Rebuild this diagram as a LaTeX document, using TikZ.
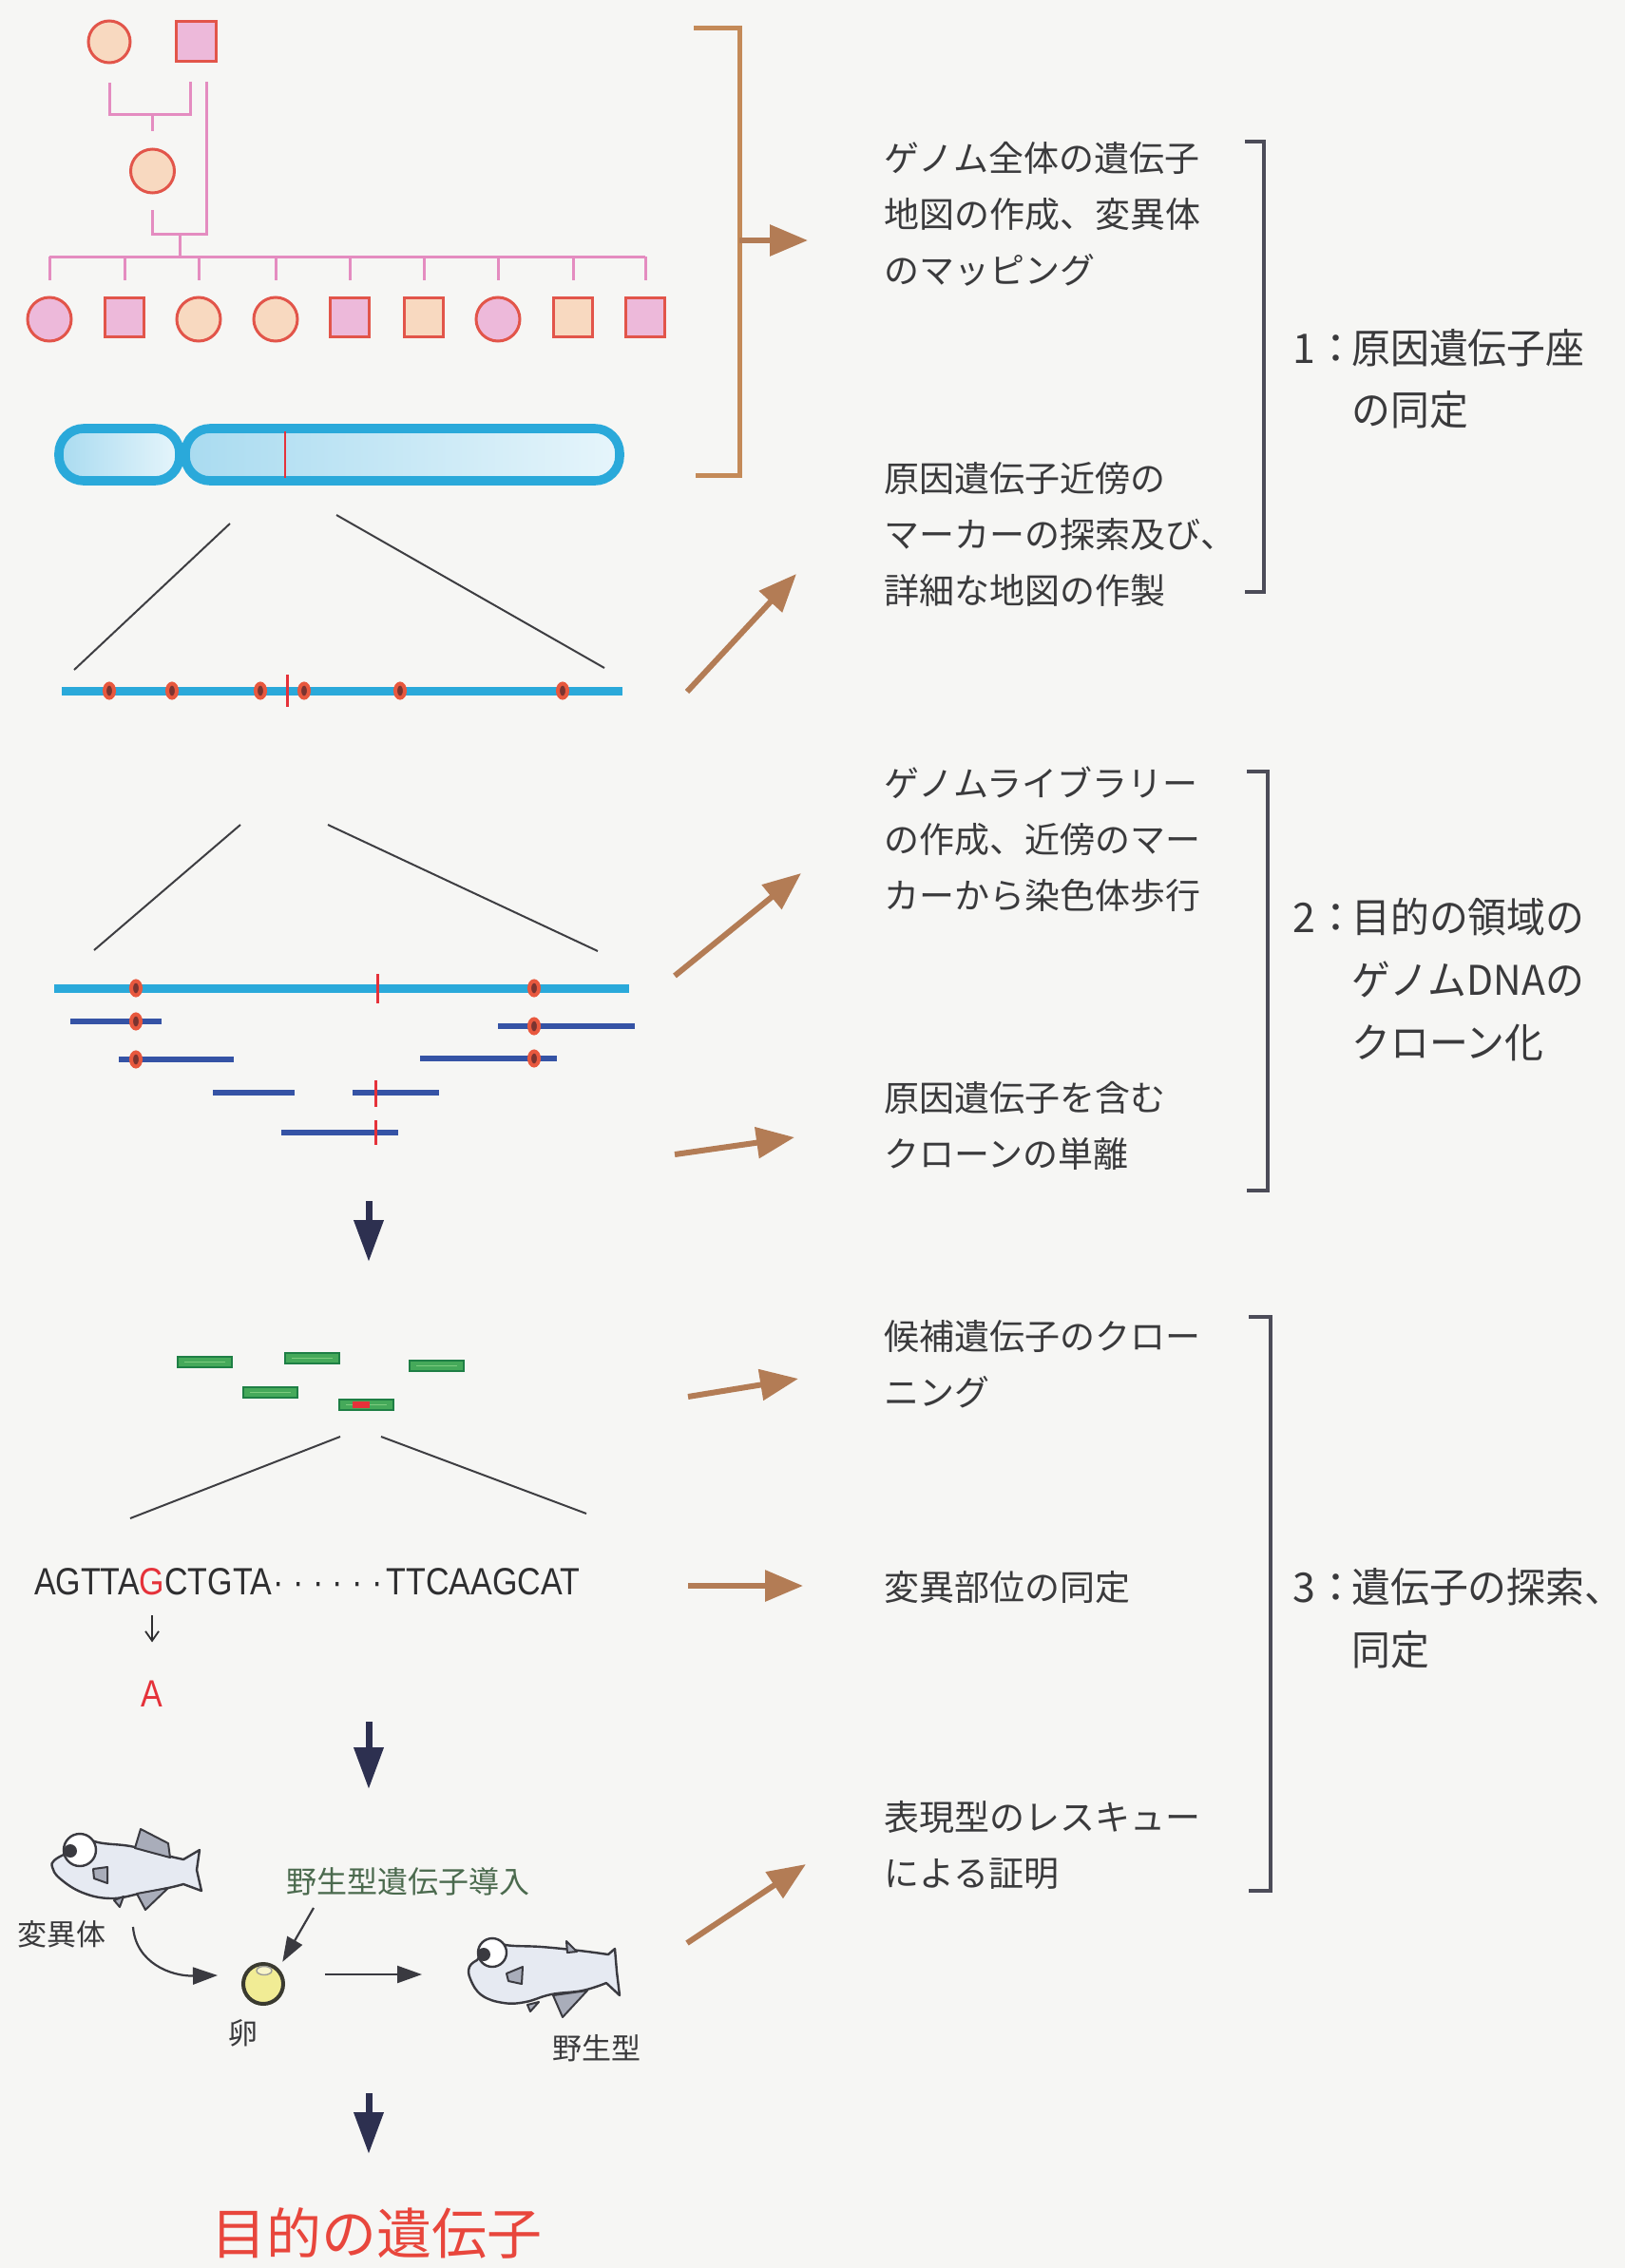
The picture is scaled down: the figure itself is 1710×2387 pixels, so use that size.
\documentclass[tikz,border=0pt]{standalone}
\usepackage{fontspec}
\usepackage{graphicx}
\usetikzlibrary{arrows.meta,calc}
\newfontfamily\jp{Noto Sans CJK JP}
\newfontfamily\seqfont{Liberation Sans}

\definecolor{bg}{HTML}{F6F6F4}
\definecolor{pedline}{HTML}{E48CC0}
\definecolor{pededge}{HTML}{E2554A}
\definecolor{pedpink}{HTML}{EDB9DA}
\definecolor{pedpeach}{HTML}{F8D9C0}
\definecolor{chromo}{HTML}{2AA9DA}
\definecolor{chromofillA}{HTML}{A9DBF0}
\definecolor{chromofillB}{HTML}{E6F5FB}
\definecolor{mutred}{HTML}{E5323A}
\definecolor{mkring}{HTML}{E8583E}
\definecolor{mkcore}{HTML}{7A3430}
\definecolor{clone}{HTML}{3553A5}
\definecolor{zoomline}{HTML}{3E3E42}
\definecolor{orangearrow}{HTML}{B37C55}
\definecolor{bracketorange}{HTML}{C48A58}
\definecolor{bracketgray}{HTML}{4C4C58}
\definecolor{txt}{HTML}{3A3A3C}
\definecolor{navy}{HTML}{2D3050}
\definecolor{greenedge}{HTML}{1E7F45}
\definecolor{greenfill}{HTML}{45A95A}
\definecolor{greenlight}{HTML}{7CCB7E}
\definecolor{fishline}{HTML}{3A3A40}
\definecolor{fishbody}{HTML}{E6EAF2}
\definecolor{fin}{HTML}{A9ADBA}
\definecolor{eggfill}{HTML}{F1EC95}
\definecolor{eggedge}{HTML}{3A3A30}
\definecolor{labelgreen}{HTML}{4B6A4E}
\definecolor{goal}{HTML}{E8463C}
\definecolor{seqtxt}{HTML}{2E2E30}

\newcommand{\narrow}[1]{\scalebox{0.95}[1]{#1}}
\newcommand{\condensed}[1]{\scalebox{0.85}[1]{#1}}

\tikzset{
  ped/.style={draw=pedline, line width=1.5pt},
  indiv/.style={draw=pededge, line width=1.5pt, inner sep=0pt},
  zoomln/.style={draw=zoomline, line width=1pt},
  cyanline/.style={draw=chromo, line width=4.5pt},
  cloneline/.style={draw=clone, line width=3pt},
  mut/.style={draw=mutred, line width=1.5pt},
  oarrow/.style={draw=orangearrow, line width=3pt, -{Triangle[length=20pt,width=16pt]}},
  darrow/.style={draw=navy, line width=3.5pt, -{Triangle[length=22pt,width=15pt]}},
  thinarrow/.style={draw=fishline, line width=1.1pt, -{Triangle[length=13pt,width=9pt]}},
  brack/.style={draw=bracketgray, line width=2pt},
  desc/.style={font=\jp\fontsize{18.5pt}{22pt}\selectfont, text=txt, anchor=base west, inner sep=0pt},
  biglabel/.style={font=\jp\fontsize{21.5pt}{26pt}\selectfont, text=txt, anchor=base west, inner sep=0pt},
  small/.style={font=\jp\fontsize{15.5pt}{18pt}\selectfont, text=txt, inner sep=0pt},
  seq/.style={font=\seqfont\fontsize{20pt}{24pt}\selectfont, text=seqtxt, inner sep=0pt, outer sep=0pt, anchor=base west},
  mkr/.pic={\filldraw[fill=mkcore, draw=mkring, line width=2pt] (0,0) ellipse [x radius=5, y radius=7.5];},
  fishoutline/.style={fill=fishbody, draw=fishline, line width=1.2pt, line join=round},
  finshape/.style={fill=fin, draw=fishline, line width=1pt, line join=round},
}

\begin{document}
\begin{tikzpicture}[x=0.5pt, y=-0.5pt]
\useasboundingbox (0,0) rectangle (1710,2387);
\fill[bg] (0,0) rectangle (1710,2387);

% ---------- pedigree ----------
\node[indiv, circle, minimum size=22pt, fill=pedpeach] (p1) at (115,44) {};
\node[indiv, rectangle, minimum size=21pt, fill=pedpink] (p2) at (206,44) {};
\node[indiv, circle, minimum size=23pt, fill=pedpeach] (f1) at (160.5,180) {};
\foreach \x/\c/\n in {52/pedpink/o1, 209/pedpeach/o3, 290/pedpeach/o4, 524/pedpink/o7}
  \node[indiv, circle, minimum size=23pt, fill=\c] (\n) at (\x,336) {};
\foreach \x/\c/\n in {131/pedpink/o2, 368/pedpink/o5, 446/pedpeach/o6, 603/pedpeach/o8, 679/pedpink/o9}
  \node[indiv, rectangle, minimum size=20.5pt, fill=\c] (\n) at (\x,334) {};

\draw[ped] ([yshift=-10pt]p1.south) -- ++(0,33) -| ([xshift=-3pt,yshift=-10pt]p2.south);
\draw[ped] (f1.north |- 0,120) -- ([yshift=8.5pt]f1.north);
\draw[ped] ([xshift=5.5pt,yshift=-10pt]p2.south) -- ++(0,160) -| ([yshift=-8pt]f1.south);
\draw[ped] (189,247) -- (189,270);
\draw[ped] (o1.north |- 0,270) -- (o9.north |- 0,270);
\foreach \n in {o1,o2,o3,o4,o5,o6,o7,o8,o9}
  \draw[ped] (\n.north |- 0,270) -- (\n.north |- 0,295);

% ---------- chromosome ----------
\draw[chromo, line width=4.8pt, left color=chromofillA, right color=chromofillB, rounded corners=13pt]
  (62,451) rectangle (189,506);
\draw[chromo, line width=4.8pt, left color=chromofillA, right color=chromofillB, rounded corners=13pt]
  (195,451) rectangle (652,506);
\draw[mut, line width=1.3pt] (300,454) -- (300,503);

% ---------- genetic map ----------
\draw[zoomln] (242,551) -- (78,705);
\draw[zoomln] (354,542) -- (636,703);
\draw[cyanline] (65,727) -- (655,727);
\foreach \x in {115,181,274,320,421,592} \pic at (\x,727) {mkr};
\draw[mut] (302,710) -- (302,744);

% ---------- contig of clones ----------
\draw[zoomln] (253,868) -- (99,1000);
\draw[zoomln] (345,868) -- (629,1001);
\draw[cyanline] (57,1040) -- (662,1040);
\draw[cloneline] (74,1075) -- (170,1075);
\draw[cloneline] (524,1080) -- (668,1080);
\draw[cloneline] (125,1115) -- (246,1115);
\draw[cloneline] (442,1114) -- (586,1114);
\draw[cloneline] (224,1150) -- (310,1150);
\draw[cloneline] (371,1150) -- (462,1150);
\draw[cloneline] (296,1192) -- (419,1192);
\foreach \x/\y in {143/1040, 562/1040, 143/1075, 562/1080, 143/1115, 562/1114} \pic at (\x,\y) {mkr};
\draw[mut] (397,1025) -- (397,1056);
\draw[mut] (395,1137) -- (395,1165);
\draw[mut] (395,1179) -- (395,1205);

% ---------- down arrows ----------
\coordinate (da1s) at (388,1264); \coordinate (da1e) at (388,1328);
\coordinate (da2s) at (388,1812); \coordinate (da2e) at (388,1883);
\coordinate (da3s) at (388,2203); \coordinate (da3e) at (388,2267);
\draw[darrow] (da1s) -- (da1e);
\draw[darrow] (da2s) -- (da2e);
\draw[darrow] (da3s) -- (da3e);

% ---------- candidate clones ----------
\foreach \x/\y in {187/1428, 300/1424, 431/1432, 256/1460, 357/1473} {
  \filldraw[fill=greenfill, draw=greenedge, line width=1.3pt] (\x,\y) rectangle ++(57,11);
  \draw[greenlight, line width=0.8pt] (\x+7,\y+5.5) -- ++(43,0);
}
\fill[mutred] (371,1475) rectangle (389,1482);
\draw[zoomln] (358,1512) -- (137,1598);
\draw[zoomln] (401,1512) -- (617,1593);

% ---------- sequence ----------
\node[seq] (s1) at (36,1678) {\condensed{AGTTA}};
\node[seq, text=mutred] (sG) at (s1.base east) {\condensed{G}};
\node[seq] (s2) at (sG.base east) {\condensed{CTGTA}};
\node[seq] (sd) at ([xshift=1pt]s2.base east) {\condensed{·\kern5.5pt·\kern5.5pt·\kern5.5pt·\kern5.5pt·\kern5.5pt·}};
\node[seq] (s3) at ([xshift=2pt]sd.base east) {\condensed{TTCAAGCAT}};
\node[seq, anchor=base, text=mutred] (mA) at ($(sG.base)+(0,118)$) {\condensed{A}};
\draw[draw=seqtxt, line width=0.9pt, -{Straight Barb[length=5pt,width=7pt]}] ($(sG.south)+(0,22)$) -- ($(sG.south)+(0,50)$);

% ---------- rescue experiment ----------
% mutant fish
\filldraw[fishoutline]
  plot[smooth, tension=0.7] coordinates {(84,1931) (103,1939) (137,1943) (163,1950) (193,1957)}
  -- (210,1947) -- (207,1968) -- (212,1990) -- (193,1983)
  -- plot[smooth, tension=0.7] coordinates {(193,1983) (177,1987) (147,1993) (117,1998) (87,1992) (63,1977) (55,1965) (57,1958) (67,1952)}
  -- cycle;
\filldraw[finshape] (148,1925) -- (177,1940) -- (179,1955) -- (142,1945) -- cycle;
\filldraw[finshape] (98,1967) -- (113,1965) -- (113,1982) -- (99,1977) -- cycle;
\filldraw[finshape] (144,1993) -- (177,1987) -- (153,2010) -- cycle;
\filldraw[finshape] (120,2000) -- (130,1996) -- (126,2007) -- cycle;
\filldraw[fill=white, draw=fishline, line width=1.2pt] (84,1947) circle (17);
\fill[fishline] (74,1948) circle (7);

% wild-type fish
\filldraw[fishoutline]
  plot[smooth, tension=0.7] coordinates {(518,2040) (532,2047) (570,2049) (610,2053) (640,2057)}
  -- (647,2051) -- (649,2075) -- (652,2100) -- (638,2087)
  -- plot[smooth, tension=0.7] coordinates {(638,2087) (613,2095) (580,2099) (553,2107) (530,2108) (507,2100) (495,2083) (494,2070) (502,2063)}
  -- cycle;
\filldraw[finshape] (596,2043) -- (607,2054) -- (597,2055) -- cycle;
\filldraw[finshape] (533,2077) -- (550,2070) -- (549,2088) -- (535,2085) -- cycle;
\filldraw[finshape] (582,2100) -- (618,2095) -- (592,2123) -- cycle;
\filldraw[finshape] (555,2110) -- (567,2107) -- (558,2117) -- cycle;
\filldraw[fill=white, draw=fishline, line width=1.2pt] (518,2055) circle (15);
\fill[fishline] (509,2057) circle (7);

% egg
\node[circle, fill=eggfill, draw=eggedge, line width=2pt, minimum size=21pt, inner sep=0pt] (egg) at (277,2088) {};
\filldraw[fill=eggfill!50!white, draw=eggedge!50, line width=0.7pt] (278,2074) ellipse [x radius=8, y radius=4.5];

\node[small] (mutlbl) at (65,2036) {変異体};
\node[small] (egglbl) at (256,2140) {卵};
\node[small] (wtlbl) at (628,2156) {野生型};
\node[small, font=\jp\fontsize{16pt}{19pt}\selectfont, text=labelgreen] (inj) at (429,1980) {野生型遺伝子導入};

\coordinate (cvs) at (140,2028);
\coordinate (cve) at (229,2079);
\draw[thinarrow] (cvs) .. controls (143,2066) and (180,2080) .. (cve);
\coordinate (injs) at (330,2008);
\draw[thinarrow, shorten >=4pt] (injs) -- (egg.north east);
\coordinate (hs) at (342,2078);
\coordinate (he) at (444,2078);
\draw[thinarrow] (hs) -- (he);

\node[font=\jp\fontsize{29pt}{34pt}\selectfont, text=goal, inner sep=0pt] (goaltxt) at (396,2350) {目的の遺伝子};

% ---------- orange bracket and arrows ----------
\draw[draw=bracketorange, line width=2.5pt] (730,30) -- (778,30) -- (778,500) -- (732,500);
\coordinate (a1s) at (778,253);  \coordinate (a1e) at (850,253);
\coordinate (a2s) at (723,728);  \coordinate (a2e) at (838,604);
\coordinate (a3s) at (710,1027); \coordinate (a3e) at (843,919);
\coordinate (a4s) at (710,1215); \coordinate (a4e) at (836,1197);
\coordinate (a5s) at (724,1470); \coordinate (a5e) at (840,1451);
\coordinate (a6s) at (724,1669); \coordinate (a6e) at (845,1669);
\coordinate (a7s) at (723,2045); \coordinate (a7e) at (848,1962);
\foreach \i in {1,...,7} \draw[oarrow] (a\i s) -- (a\i e);

% ---------- step descriptions ----------
\node[desc] (d1a) at (930,180) {ゲノム全体の遺伝子};
\node[desc] (d1b) at (930,239) {地図の作成、変異体};
\node[desc] (d1c) at (930,298) {のマッピング};
\node[desc] (d2a) at (930,517) {原因遺伝子近傍の};
\node[desc] (d2b) at (930,576) {マーカーの探索及び、};
\node[desc] (d2c) at (930,635) {詳細な地図の作製};
\node[desc] (d3a) at (930,838) {ゲノムライブラリー};
\node[desc] (d3b) at (930,897) {の作成、近傍のマー};
\node[desc] (d3c) at (930,956) {カーから染色体歩行};
\node[desc] (d4a) at (930,1169) {原因遺伝子を含む};
\node[desc] (d4b) at (930,1228) {クローンの単離};
\node[desc] (d5a) at (930,1420) {候補遺伝子のクロー};
\node[desc] (d5b) at (930,1479) {ニング};
\node[desc] (d6) at (930,1684) {変異部位の同定};
\node[desc] (d7a) at (930,1926) {表現型のレスキュー};
\node[desc] (d7b) at (930,1985) {による証明};

% ---------- stage brackets ----------
\draw[brack] (1310,149) -- (1330,149) -- (1330,623) -- (1310,623);
\draw[brack] (1312,812) -- (1334,812) -- (1334,1253) -- (1312,1253);
\draw[brack] (1314,1386) -- (1337,1386) -- (1337,1990) -- (1314,1990);

\node[biglabel] (n1) at (1360,382) {1：};
\node[biglabel] (l1a) at (1422,382) {\narrow{原因遺伝子座}};
\node[biglabel] (l1b) at (1422,447) {\narrow{の同定}};
\node[biglabel] (n2) at (1360,981) {2：};
\node[biglabel] (l2a) at (1422,981) {\narrow{目的の領域の}};
\node[biglabel] (l2b) at (1422,1047) {\narrow{ゲノムDNAの}};
\node[biglabel] (l2c) at (1422,1113) {\narrow{クローン化}};
\node[biglabel] (n3) at (1360,1686) {3：};
\node[biglabel] (l3a) at (1422,1686) {\narrow{遺伝子の探索、}};
\node[biglabel] (l3b) at (1422,1752) {\narrow{同定}};
\end{tikzpicture}
\end{document}
